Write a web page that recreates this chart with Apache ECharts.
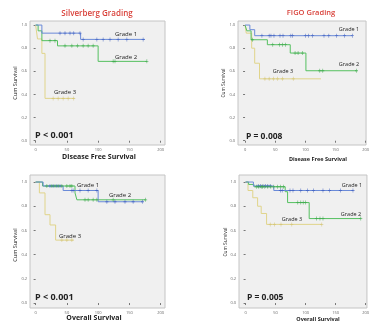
<!DOCTYPE html>
<html>
<head>
<meta charset="utf-8">
<script src="https://cdn.jsdelivr.net/npm/echarts@6/dist/echarts.min.js"></script>
<style>
  html, body { margin: 0; padding: 0; background: #fff; }
  #main { width: 372px; height: 324px; }
</style>
</head>
<body>
<div id="main"></div>
<script>
// KM curves: [time, cum survival]
const silvDfsG1 = [[0, 1], [10, 0.93], [72, 0.876], [175, 0.876]];
const silvDfsG2 = [[0, 1], [4, 0.95], [10, 0.865], [35, 0.82], [100, 0.686], [178, 0.686]];
const silvDfsG3 = [[0, 1], [3, 0.88], [10, 0.755], [15, 0.366], [62, 0.366]];
const silvDfsC1 = [39, 47, 55, 61, 71, 76, 98, 108, 119, 132, 146, 172];
const silvDfsC2 = [23, 31, 47, 58, 67, 76, 84, 92, 124, 127, 178];
const silvDfsC3 = [28, 36, 44, 52, 61];

const figoDfsG1 = [[0, 1], [8, 0.96], [16, 0.908], [178, 0.908]];
const figoDfsG2 = [[0, 1], [3, 0.95], [10, 0.873], [37, 0.83], [75, 0.758], [101, 0.605], [185, 0.605]];
const figoDfsG3 = [[0, 1], [2, 0.93], [11, 0.8], [16, 0.67], [24, 0.535], [126, 0.535]];
const figoDfsC1 = [28, 40, 43, 48, 58, 63, 76, 79, 100, 105, 112, 131, 139, 152, 165, 178];
const figoDfsC2 = [12, 46, 57, 62, 67, 83, 88, 95, 124, 129, 185];
const figoDfsC3 = [33, 40, 47, 54, 62, 80];

const silvOsG1 = [[0, 1], [12, 0.967], [44, 0.93], [100, 0.837], [171, 0.837]];
const silvOsG2 = [[0, 1], [11, 0.967], [63, 0.91], [66, 0.853], [176, 0.853]];
const silvOsG3 = [[0, 1], [6, 0.91], [15, 0.73], [23, 0.645], [32, 0.52], [61, 0.52]];
const silvOsC1 = [23, 28, 34, 39, 58, 60, 71, 84, 98, 114, 127, 143, 156, 171];
const silvOsC2 = [18, 26, 31, 36, 42, 50, 55, 58, 79, 84, 92, 98, 124, 176];
const silvOsC3 = [42, 50, 58];

const figoOsG1 = [[0, 1], [13, 0.967], [47, 0.93], [179, 0.93]];
const figoOsG2 = [[0, 1], [5, 0.98], [14, 0.961], [66, 0.92], [70, 0.83], [106, 0.698], [192, 0.698]];
const figoOsG3 = [[0, 1], [4, 0.93], [12, 0.87], [20, 0.8], [26, 0.74], [35, 0.65], [127, 0.65]];
const figoOsC1 = [21, 25, 29, 33, 37, 41, 58, 61, 74, 79, 92, 103, 113, 129, 140, 158, 179];
const figoOsC2 = [18, 22, 26, 28, 32, 37, 42, 47, 53, 58, 63, 87, 92, 96, 100, 118, 124, 129, 192];
const figoOsC3 = [41, 48, 59, 77, 127];

const xTicks = [0, 50, 100, 150, 200];
const yTicks = [0, 0.2, 0.4, 0.6, 0.8, 1.0];

const panels = [
  { curves: [silvDfsG1, silvDfsG2, silvDfsG3], cens: [silvDfsC1, silvDfsC2, silvDfsC3],
    grid: { left: 30, top: 21, width: 135, height: 124 }, x: [-9, 207], y: [-0.037, 1.035] },
  { curves: [figoDfsG1, figoDfsG2, figoDfsG3], cens: [figoDfsC1, figoDfsC2, figoDfsC3],
    grid: { left: 238, top: 21, width: 136, height: 124 }, x: [-11.7, 200.8], y: [-0.037, 1.035] },
  { curves: [silvOsG1, silvOsG2, silvOsG3], cens: [silvOsC1, silvOsC2, silvOsC3],
    grid: { left: 30, top: 175, width: 135, height: 133 }, x: [-9, 207], y: [-0.041, 1.058] },
  { curves: [figoOsG1, figoOsG2, figoOsG3], cens: [figoOsC1, figoOsC2, figoOsC3],
    grid: { left: 239, top: 175, width: 135, height: 133 }, x: [-11, 202.3], y: [-0.041, 1.058] }
];

const colors = ['#6a8ad8', '#55c060', '#e0d48a'];
const censColors = ['#3f5fc0', '#3aa848', '#d2c270'];
const FONT = 'Open Sans, Liberation Sans, sans-serif';

// value of the step curve at time t
function atTime(curve, t) {
  let y = curve[0][1];
  curve.forEach(p => { if (p[0] <= t) y = p[1]; });
  return y;
}

const grids = [], xAxes = [], yAxes = [], series = [];
panels.forEach((p, i) => {
  grids.push(Object.assign({
    show: true, backgroundColor: '#f0f0f0', borderColor: '#c4c4c4', borderWidth: 1
  }, p.grid));
  xAxes.push({
    type: 'value', gridIndex: i, min: p.x[0], max: p.x[1],
    axisLine: { show: false }, splitLine: { show: false },
    axisTick: { show: true, customValues: xTicks, length: 2, lineStyle: { color: '#777' } },
    axisLabel: { customValues: xTicks, fontSize: 4, color: '#666', margin: 3, fontFamily: FONT }
  });
  yAxes.push({
    type: 'value', gridIndex: i, min: p.y[0], max: p.y[1],
    axisLine: { show: false }, splitLine: { show: false },
    axisTick: { show: true, customValues: yTicks, length: 2, lineStyle: { color: '#777' } },
    axisLabel: { customValues: yTicks, fontSize: 4, color: '#666', margin: 3, fontFamily: FONT,
      formatter: v => v.toFixed(1) }
  });
  p.curves.forEach((c, k) => {
    series.push({
      type: 'line', step: 'end', xAxisIndex: i, yAxisIndex: i, data: c,
      showSymbol: false, lineStyle: { color: colors[k], width: 1 }, z: 3 - k
    });
    series.push({
      type: 'scatter', xAxisIndex: i, yAxisIndex: i,
      data: p.cens[k].map(t => [t, atTime(c, t)]),
      symbol: 'path://M2,0h1v2h2v1h-2v2h-1v-2h-2v-1h2z', symbolSize: [3, 4],
      itemStyle: { color: censColors[k] }, z: 4
    });
  });
});

function txt(x, y, text, size, opts) {
  return {
    type: 'text', x: x, y: y, z: 10,
    style: Object.assign({
      text: text, fontSize: size, fontFamily: FONT, fill: '#222',
      align: 'center', verticalAlign: 'middle'
    }, opts || {})
  };
}

const graphics = [
  txt(97, 14, 'Silverberg Grading', 8, { fill: '#d9413a', fontWeight: 600 }),
  txt(311, 13, 'FIGO Grading', 7.5, { fill: '#d9413a', fontWeight: 600 }),
  // axis titles
  txt(99, 157, 'Disease Free Survival', 7, { fontWeight: 'bold' }),
  txt(318, 159, 'Disease Free Survival', 5.5, { fontWeight: 'bold' }),
  txt(94, 318, 'Overall Survival', 7, { fontWeight: 'bold' }),
  txt(318, 319, 'Overall Survival', 5.5, { fontWeight: 'bold' }),
  Object.assign(txt(15, 83, 'Cum Survival', 5.5), { rotation: Math.PI / 2 }),
  Object.assign(txt(224, 83, 'Cum Survival', 4.8), { rotation: Math.PI / 2 }),
  Object.assign(txt(15, 245, 'Cum Survival', 5.5), { rotation: Math.PI / 2 }),
  Object.assign(txt(226, 242, 'Cum Survival', 4.8), { rotation: Math.PI / 2 }),
  // grade labels
  txt(126, 34, 'Grade 1', 6), txt(126, 57, 'Grade 2', 6), txt(65, 92, 'Grade 3', 6),
  txt(349, 29, 'Grade 1', 5.5), txt(349, 64, 'Grade 2', 5.5), txt(283, 71, 'Grade 3', 5.5),
  txt(88, 185, 'Grade 1', 6), txt(120, 195, 'Grade 2', 6), txt(70, 236, 'Grade 3', 6),
  txt(352, 185, 'Grade 1', 5.5), txt(351, 214, 'Grade 2', 5.5), txt(292, 219, 'Grade 3', 5.5),
  // p values
  txt(35, 135, 'P < 0.001', 9, { fontWeight: 'bold', align: 'left' }),
  txt(246, 137, 'P = 0.008', 8.5, { fontWeight: 'bold', align: 'left' }),
  txt(35, 297, 'P < 0.001', 9, { fontWeight: 'bold', align: 'left' }),
  txt(247, 298, 'P = 0.005', 8.5, { fontWeight: 'bold', align: 'left' })
];

const chart = echarts.init(document.getElementById('main'));
chart.setOption({
  animation: false,
  backgroundColor: '#fff',
  grid: grids,
  xAxis: xAxes,
  yAxis: yAxes,
  series: series,
  graphic: graphics
});
</script>
</body>
</html>
